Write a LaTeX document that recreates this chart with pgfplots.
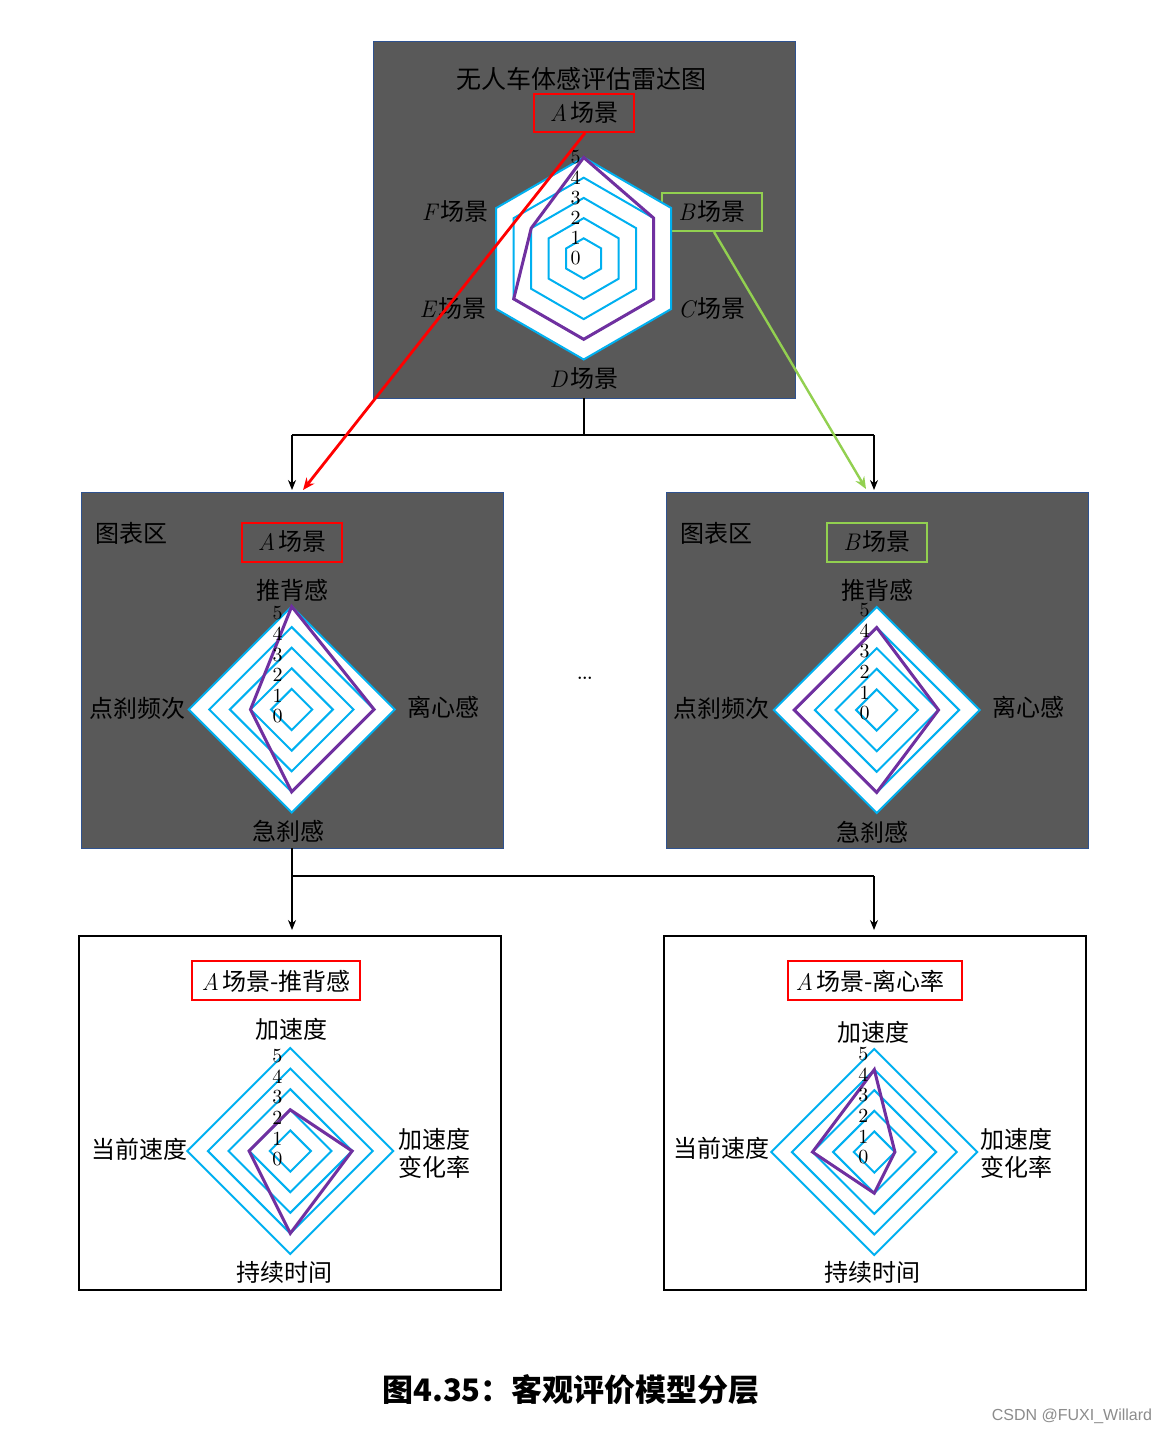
\documentclass[border=0pt]{standalone}
\usepackage{fontspec}
\usepackage{pgfplots}
\pgfplotsset{compat=1.18}
\usepgfplotslibrary{polar}
\usetikzlibrary{arrows.meta}
\newfontfamily\cjk{Noto Sans CJK SC}
\newfontfamily\wm{Liberation Sans}
\definecolor{ring}{HTML}{00B0F0}
\definecolor{pur}{HTML}{7030A0}
\definecolor{panel}{HTML}{595959}
\definecolor{pborder}{HTML}{2F528F}
\definecolor{gr}{HTML}{92D050}
\pgfplotsset{radar/.style={hide axis, scale only axis, width=#1, height=#1,
  ymin=0, ymax=5, xmin=0, xmax=360, clip=false, anchor=center}}
\tikzset{lab/.style={font=\rmfamily\fontsize{10}{10}\selectfont, inner sep=0pt},
  cj/.style={font=\cjk\fontsize{12}{14}\selectfont, inner sep=0pt, align=center},
  gridl/.style={ring, line width=1pt, line join=miter},
  datal/.style={pur, line width=1.5pt, line join=miter}}
\newcommand\itl[1]{{\rmfamily\itshape #1\kern1.5pt}}
\newcommand\rlab[2]{%
  \node[lab,xshift=#1,yshift=#2] at (axis cs:90,0) {0};
  \node[lab,xshift=#1,yshift=#2] at (axis cs:90,1) {1};
  \node[lab,xshift=#1,yshift=#2] at (axis cs:90,2) {2};
  \node[lab,xshift=#1,yshift=#2] at (axis cs:90,3) {3};
  \node[lab,xshift=#1,yshift=#2] at (axis cs:90,4) {4};
  \node[lab,xshift=#1,yshift=#2] at (axis cs:90,5) {5};}
\newcommand\diamondgrid{%
  \addplot[gridl, fill=white] coordinates {(90,5) (0,5) (270,5) (180,5)} -- cycle;
  \addplot[gridl] coordinates {(90,4) (0,4) (270,4) (180,4)} -- cycle;
  \addplot[gridl] coordinates {(90,3) (0,3) (270,3) (180,3)} -- cycle;
  \addplot[gridl] coordinates {(90,2) (0,2) (270,2) (180,2)} -- cycle;
  \addplot[gridl] coordinates {(90,1) (0,1) (270,1) (180,1)} -- cycle;}
\newcommand\hexgrid{%
  \addplot[gridl, fill=white] coordinates {(90,5) (30,5) (330,5) (270,5) (210,5) (150,5)} -- cycle;
  \addplot[gridl] coordinates {(90,4) (30,4) (330,4) (270,4) (210,4) (150,4)} -- cycle;
  \addplot[gridl] coordinates {(90,3) (30,3) (330,3) (270,3) (210,3) (150,3)} -- cycle;
  \addplot[gridl] coordinates {(90,2) (30,2) (330,2) (270,2) (210,2) (150,2)} -- cycle;
  \addplot[gridl] coordinates {(90,1) (30,1) (330,1) (270,1) (210,1) (150,1)} -- cycle;}
\begin{document}
\begin{tikzpicture}
\begin{scope}[x=0.5pt,y=-0.5pt]
  \fill[white] (0,0) rectangle (1168,1434);
  % panels
  \filldraw[fill=panel, draw=pborder, line width=0.5pt] (373,42) rectangle (795,398);
  \filldraw[fill=panel, draw=pborder, line width=0.5pt] (81,492) rectangle (503,848);
  \filldraw[fill=panel, draw=pborder, line width=0.5pt] (666,492) rectangle (1088,848);
  \filldraw[fill=white, draw=black, line width=1.2pt] (79,936) rectangle (501,1290);
  \filldraw[fill=white, draw=black, line width=1.2pt] (664,936) rectangle (1086,1290);
  % connectors
  \draw[black, line width=0.6pt] (584,398) -- (584,435);
  \draw[black, line width=0.6pt] (292,435) -- (874,435);
  \draw[black, line width=0.6pt, -{Stealth[length=5pt,width=4pt]}] (292,435) -- (292,490);
  \draw[black, line width=0.6pt, -{Stealth[length=5pt,width=4pt]}] (874,435) -- (874,490);
  \draw[black, line width=0.6pt, -{Stealth[length=5pt,width=4pt]}] (292,848) -- (292,930);
  \draw[black, line width=0.6pt] (292,876) -- (874,876);
  \draw[black, line width=0.6pt, -{Stealth[length=5pt,width=4pt]}] (874,876) -- (874,930);
  % top panel texts
  \node[cj, font=\cjk\fontsize{12.5}{14}\selectfont] at (581,79) {无人车体感评估雷达图};
  \draw[red, line width=1.4pt] (534,94) rectangle (634,132);
  \node[cj] at (584,113) {\itl{A}场景};
  \draw[gr, line width=1.4pt] (662,193) rectangle (762,231);
  \node[cj] at (712,212) {\itl{B}场景};
  \node[cj] at (455,212) {\itl{F}场景};
  \node[cj] at (712,309) {\itl{C}场景};
  \node[cj] at (453,309) {\itl{E}场景};
  \node[cj] at (584,379) {\itl{D}场景};
  % mid-left texts
  \node[cj] at (131,533) {图表区};
  \draw[red, line width=1.4pt] (242,523) rectangle (342,562);
  \node[cj] at (292,542) {\itl{A}场景};
  \node[cj] at (292,590) {推背感};
  \node[cj] at (443,707) {离心感};
  \node[cj] at (288,831) {急刹感};
  \node[cj] at (137,708) {点刹频次};
  % mid-right texts
  \node[cj] at (716,533) {图表区};
  \draw[gr, line width=1.4pt] (827,523) rectangle (927,562);
  \node[cj] at (877,542) {\itl{B}场景};
  \node[cj] at (877,590) {推背感};
  \node[cj] at (1028,707) {离心感};
  \node[cj] at (872,832) {急刹感};
  \node[cj] at (721,708) {点刹频次};
  \node[font=\rmfamily\fontsize{15}{15}\selectfont] at (585,678) {\ldots};
  % bottom-left texts
  \draw[red, line width=1.4pt] (192,961) rectangle (360,1000);
  \node[cj] at (276,981) {\itl{A}场景-推背感};
  \node[cj] at (291,1029) {加速度};
  \node[cj] at (434,1153) {加速度\\变化率};
  \node[cj] at (284,1272) {持续时间};
  \node[cj] at (139,1149) {当前速度};
  % bottom-right texts
  \draw[red, line width=1.4pt] (788,961) rectangle (962,1000);
  \node[cj] at (870,981) {\itl{A}场景-离心率};
  \node[cj] at (873,1032) {加速度};
  \node[cj] at (1016,1153) {加速度\\变化率};
  \node[cj] at (872,1272) {持续时间};
  \node[cj] at (721,1148) {当前速度};
  % caption
  \node[font=\cjk\bfseries\fontsize{15.5}{16}\selectfont, inner sep=0pt] at (571,1390) {图4.35：客观评价模型分层};
  \node[font=\wm\fontsize{8}{8}\selectfont, text=black!45, inner sep=0pt] at (1072,1416) {CSDN @FUXI\_Willard};
\end{scope}

% top hexagon radar
\begin{polaraxis}[radar=101pt, at={(291.85pt,-129.25pt)}]
  \hexgrid
  \addplot[datal] coordinates {(90,5) (30,4) (330,4) (270,4) (210,4) (150,3)} -- cycle;
  \rlab{-4pt}{0pt}
\end{polaraxis}
% mid-left A
\begin{polaraxis}[radar=103pt, at={(145.85pt,-354.75pt)}]
  \diamondgrid
  \addplot[datal] coordinates {(90,5) (0,4) (270,4) (180,2)} -- cycle;
  \rlab{-7pt}{-3.5pt}
\end{polaraxis}
% mid-right B
\begin{polaraxis}[radar=103pt, at={(438.35pt,-355pt)}]
  \diamondgrid
  \addplot[datal] coordinates {(90,4) (0,3) (270,4) (180,4)} -- cycle;
  \rlab{-6pt}{-1.5pt}
\end{polaraxis}
% bottom-left
\begin{polaraxis}[radar=103pt, at={(145.15pt,-575.5pt)}]
  \diamondgrid
  \addplot[datal] coordinates {(90,2) (0,3) (270,4) (180,2)} -- cycle;
  \rlab{-6.5pt}{-4pt}
\end{polaraxis}
% bottom-right
\begin{polaraxis}[radar=103pt, at={(437.15pt,-576pt)}]
  \diamondgrid
  \addplot[datal] coordinates {(90,4) (0,1) (270,2) (180,3)} -- cycle;
  \rlab{-5.5pt}{-2.5pt}
\end{polaraxis}

\begin{scope}[x=0.5pt,y=-0.5pt]
  \draw[red, line width=1.4pt, -{Stealth[length=6pt,width=5pt]}] (585,133) -- (303,490);
  \draw[gr, line width=1.2pt, -{Stealth[length=6pt,width=5pt]}] (714,232) -- (866,489);
\end{scope}
\end{tikzpicture}
\end{document}
